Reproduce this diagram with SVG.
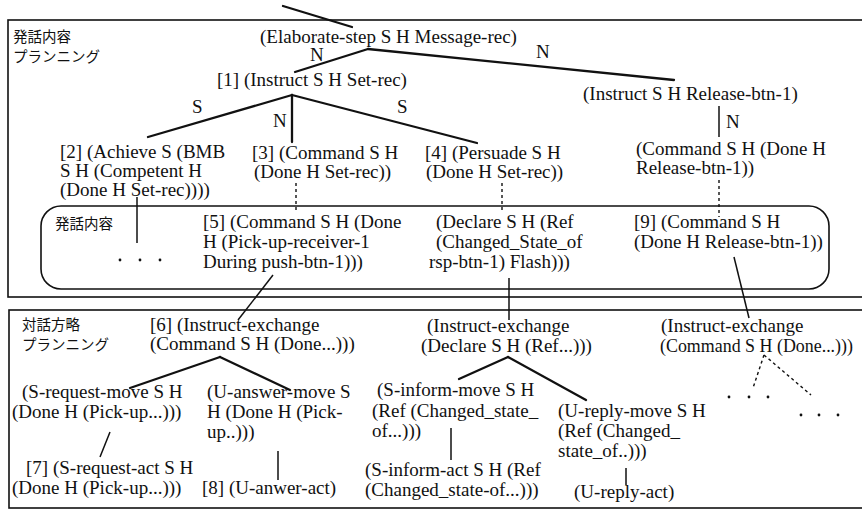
<svg xmlns="http://www.w3.org/2000/svg" width="862" height="510" viewBox="0 0 862 510">
<style>
.t{font-family:"Liberation Serif","Times New Roman",serif;font-size:19px;fill:#111}
.j{font-family:"Noto Sans CJK JP","Noto Sans CJK SC",sans-serif;font-size:14.5px;fill:#111}
.frame{fill:none;stroke:#111;stroke-width:1.6}
.e{stroke:#111;stroke-width:2.3;fill:none;stroke-linecap:round}
.v{stroke:#111;stroke-width:1.5;fill:none}
.d{stroke:#111;stroke-width:1.4;fill:none;stroke-dasharray:3 3}
.dot{fill:#111}
</style>
<rect width="862" height="510" fill="#fff"/>
<g id="frames">
<rect class="frame" x="8" y="20" width="870" height="277"/>
<rect class="frame" x="9" y="310" width="870" height="198"/>
<rect id="content-box" class="frame" x="41" y="206" width="788" height="83" rx="20" ry="20"/>
</g>
<g id="labels">
<text class="j" x="13" y="42">発話内容</text>
<text class="j" x="13" y="62">プランニング</text>
<text class="j" x="55" y="229">発話内容</text>
<text class="j" x="22" y="330">対話方略</text>
<text class="j" x="22" y="350">プランニング</text>
</g>
<g id="connectors">
<line class="e" x1="283" y1="6" x2="352" y2="27"/>
<line class="e" x1="368" y1="49" x2="295" y2="72"/>
<line class="e" x1="368" y1="49" x2="674" y2="80"/>
<line class="e" x1="292" y1="95" x2="148" y2="137"/>
<line class="e" x1="292" y1="95" x2="292" y2="142"/>
<line class="e" x1="292" y1="95" x2="477" y2="143"/>
<line class="v" x1="719" y1="106" x2="719" y2="137"/>
<line class="v" x1="137" y1="197" x2="137" y2="243"/>
<line class="d" x1="296" y1="183" x2="296" y2="213"/>
<line class="d" x1="502" y1="183" x2="502" y2="212"/>
<line class="d" x1="719" y1="180" x2="719" y2="217"/>
<line class="v" x1="273" y1="275" x2="238" y2="320"/>
<line class="v" x1="509" y1="278" x2="509" y2="320"/>
<line class="v" x1="734" y1="257" x2="749" y2="318"/>
<line class="e" x1="220" y1="357" x2="130" y2="388"/>
<line class="e" x1="220" y1="357" x2="290" y2="390"/>
<line class="v" x1="110" y1="432" x2="100" y2="457"/>
<line class="v" x1="278" y1="451" x2="278" y2="480"/>
<line class="e" x1="508" y1="357" x2="459" y2="379"/>
<line class="e" x1="508" y1="357" x2="586" y2="400"/>
<line class="v" x1="451" y1="428" x2="451" y2="460"/>
<line class="v" x1="626" y1="468" x2="626" y2="485"/>
<line class="d" x1="764" y1="355" x2="753" y2="388"/>
<line class="d" x1="764" y1="355" x2="811" y2="395"/>
</g>
<g id="edge-labels">
<text class="t" x="310" y="61">N</text>
<text class="t" x="536" y="58">N</text>
<text class="t" x="192" y="113">S</text>
<text class="t" x="273" y="127">N</text>
<text class="t" x="397" y="113">S</text>
<text class="t" x="726" y="128">N</text>
</g>
<g id="n-elaborate"><text class="t" x="260" y="43">(Elaborate-step S H Message-rec)</text></g>
<g id="n1"><text class="t" x="217" y="86">[1] (Instruct S H Set-rec)</text></g>
<g id="n-release"><text class="t" x="583" y="100">(Instruct S H Release-btn-1)</text></g>
<g id="n2"><text class="t" x="60" y="158">[2] (Achieve S (BMB</text><text class="t" x="60" y="177">S H (Competent H</text><text class="t" x="60" y="196">(Done H Set-rec))))</text></g>
<g id="n3"><text class="t" x="252" y="159">[3] (Command S H</text><text class="t" x="254" y="178">(Done H Set-rec))</text></g>
<g id="n4"><text class="t" x="425" y="159">[4] (Persuade S H</text><text class="t" x="426" y="178">(Done H Set-rec))</text></g>
<g id="n-command-release"><text class="t" x="636" y="155">(Command S H (Done H</text><text class="t" x="636" y="174">Release-btn-1))</text></g>
<g id="n-dots1"><circle class="dot" cx="120" cy="260" r="1.4"/><circle class="dot" cx="140" cy="260" r="1.4"/><circle class="dot" cx="160" cy="260" r="1.4"/></g>
<g id="n5"><text class="t" x="203" y="228">[5] (Command S H (Done</text><text class="t" x="203" y="248">H (Pick-up-receiver-1</text><text class="t" x="203" y="268">During push-btn-1)))</text></g>
<g id="n-declare"><text class="t" x="436" y="228">(Declare S H (Ref</text><text class="t" x="436" y="248">(Changed_State_of</text><text class="t" x="429" y="268">rsp-btn-1) Flash)))</text></g>
<g id="n9"><text class="t" x="634" y="228">[9] (Command S H</text><text class="t" x="634" y="248">(Done H Release-btn-1))</text></g>
<g id="n6"><text class="t" x="150" y="331">[6] (Instruct-exchange</text><text class="t" x="150" y="350">(Command S H (Done...)))</text></g>
<g id="n-ie-declare"><text class="t" x="427" y="332">(Instruct-exchange</text><text class="t" x="421" y="352">(Declare S H (Ref...)))</text></g>
<g id="n-ie-command"><text class="t" x="661" y="332">(Instruct-exchange</text><text class="t" x="660" y="352" textLength="193" lengthAdjust="spacingAndGlyphs">(Command S H (Done...)))</text></g>
<g id="n-sreq-move"><text class="t" x="22" y="398">(S-request-move S H</text><text class="t" x="12" y="418">(Done H (Pick-up...)))</text></g>
<g id="n-uans-move"><text class="t" x="207" y="398">(U-answer-move S</text><text class="t" x="207" y="418">H (Done H (Pick-</text><text class="t" x="207" y="438">up..)))</text></g>
<g id="n7"><text class="t" x="26" y="474">[7] (S-request-act S H</text><text class="t" x="12" y="494">(Done H (Pick-up...)))</text></g>
<g id="n8"><text class="t" x="202" y="494">[8] (U-anwer-act)</text></g>
<g id="n-sinf-move"><text class="t" x="377" y="396">(S-inform-move S H</text><text class="t" x="372" y="417">(Ref (Changed_state_</text><text class="t" x="372" y="437">of...)))</text></g>
<g id="n-sinf-act"><text class="t" x="365" y="476">(S-inform-act S H (Ref</text><text class="t" x="365" y="496">(Changed_state-of...)))</text></g>
<g id="n-urep-move"><text class="t" x="558" y="417">(U-reply-move S H</text><text class="t" x="558" y="437">(Ref (Changed_</text><text class="t" x="558" y="457">state_of..)))</text></g>
<g id="n-urep-act"><text class="t" x="574" y="498">(U-reply-act)</text></g>
<g id="n-dots2"><circle class="dot" cx="729" cy="397" r="1.4"/><circle class="dot" cx="749" cy="397" r="1.4"/><circle class="dot" cx="768" cy="397" r="1.4"/><circle class="dot" cx="801" cy="415" r="1.4"/><circle class="dot" cx="819" cy="415" r="1.4"/><circle class="dot" cx="838" cy="415" r="1.4"/></g>
</svg>
